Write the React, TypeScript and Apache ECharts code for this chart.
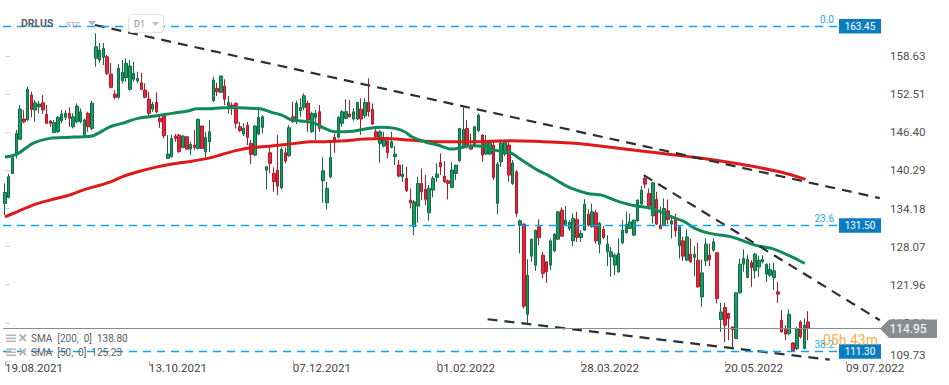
import React, { useEffect, useRef } from "react";
import * as echarts from "echarts";

// ---------- data ----------
const symbolName = "DRLUS";
const symbolSource = "STC";
const timeframe = "D1";
const startDate = "2021-08-19";
const marketHolidays = ["2021-09-06", "2021-11-25", "2021-12-24", "2022-01-17", "2022-02-21", "2022-04-15", "2022-05-30", "2022-06-20", "2022-07-04"];
const totalSlots = 232;
const xTickLabels = ["19.08.2021", "13.10.2021", "07.12.2021", "01.02.2022", "28.03.2022", "20.05.2022", "09.07.2022"];
const yTickValues = [109.73, 115.84, 121.96, 128.07, 134.18, 140.29, 146.4, 152.51, 158.63];
const yMin = 109.73;
const yMax = 167.62;

// [open, close, low, high]
const ohlc: number[][] = [
  [135.0, 136.76, 133.12, 138.21], [135.96, 139.27, 135.8, 139.7], [139.81, 142.32, 139.7, 142.59], [143.02, 146.23, 142.22, 146.76],
  [145.27, 150.13, 145.16, 150.77], [148.53, 148.09, 147.84, 149.97], [148.37, 153.29, 148.25, 153.71], [152.38, 150.08, 148.8, 152.91],
  [149.97, 151.14, 148.09, 151.58], [150.5, 150.93, 149.49, 151.42], [151.14, 149.97, 149.33, 152.38], [149.28, 147.84, 147.72, 150.77],
  [148.21, 147.84, 147.29, 148.37], [146.39, 148.0, 146.23, 148.37], [146.49, 148.8, 146.28, 149.01], [148.25, 149.33, 147.84, 149.97],
  [148.8, 149.44, 148.37, 149.97], [149.44, 148.64, 147.29, 150.4], [147.29, 148.9, 147.03, 149.44], [148.09, 150.61, 147.84, 151.05],
  [148.09, 149.7, 147.84, 150.24], [145.96, 148.37, 145.8, 148.64], [149.44, 147.29, 146.49, 149.7], [147.03, 151.05, 146.76, 151.46],
  [158.27, 160.13, 156.92, 162.28], [158.0, 159.6, 157.51, 160.72], [158.43, 159.87, 157.19, 160.72], [158.52, 155.86, 155.59, 158.8],
  [155.75, 153.61, 153.45, 157.51], [152.54, 152.01, 151.69, 153.18], [152.01, 156.66, 151.8, 157.35], [154.67, 156.02, 154.26, 157.99],
  [155.15, 157.47, 154.51, 158.27], [153.29, 157.03, 153.1, 157.99], [154.9, 155.86, 154.51, 157.72], [154.67, 155.06, 154.26, 156.12],
  [154.35, 153.29, 153.18, 155.96], [153.18, 152.01, 151.85, 154.26], [151.74, 149.44, 148.9, 152.91], [150.13, 150.89, 149.7, 151.3],
  [151.21, 149.7, 149.44, 152.81], [148.64, 148.09, 147.13, 148.9], [149.01, 145.85, 145.43, 149.1], [142.22, 142.91, 142.1, 145.96],
  [142.48, 145.43, 142.38, 145.96], [145.8, 145.43, 144.88, 146.12], [145.96, 143.28, 143.12, 146.12], [143.99, 145.8, 143.82, 145.96],
  [145.69, 143.71, 143.66, 145.8], [143.71, 144.47, 142.75, 144.88], [144.36, 143.99, 143.55, 146.76], [143.82, 148.48, 143.66, 148.64],
  [147.4, 143.82, 143.71, 147.5], [143.28, 145.59, 142.38, 146.49], [144.88, 146.49, 143.28, 148.37], [151.46, 154.79, 151.3, 155.31],
  [153.45, 152.91, 152.22, 154.35], [152.81, 155.42, 152.7, 155.5], [153.82, 151.69, 150.77, 154.9], [150.66, 151.21, 149.44, 152.22],
  [150.77, 150.5, 149.17, 151.21], [151.05, 147.84, 147.03, 151.21], [147.29, 146.65, 146.49, 148.09], [146.12, 147.03, 145.8, 147.84],
  [147.51, 145.59, 144.36, 148.09], [144.63, 142.86, 141.31, 145.16], [142.75, 147.4, 142.59, 147.56], [146.12, 148.8, 145.96, 150.5],
  [147.19, 148.9, 146.23, 149.17], [140.34, 140.87, 137.25, 141.0], [143.12, 141.42, 139.81, 143.99], [139.81, 138.46, 136.86, 140.78],
  [140.34, 137.77, 136.33, 145.96], [137.5, 143.66, 137.25, 143.99], [143.12, 141.79, 141.42, 143.99], [142.64, 147.13, 142.48, 147.56],
  [148.9, 148.09, 147.9, 151.3], [148.25, 151.05, 147.72, 151.46], [149.86, 150.4, 148.9, 151.85], [150.4, 152.27, 149.97, 152.65],
  [151.05, 148.37, 146.49, 151.46], [146.49, 149.44, 146.33, 149.7], [148.8, 149.44, 145.16, 149.97], [149.7, 147.03, 146.49, 150.77],
  [138.62, 140.23, 135.09, 142.38], [135.09, 137.41, 134.04, 138.46], [139.27, 142.38, 139.01, 144.72], [145.59, 144.88, 143.12, 146.23],
  [145.59, 148.8, 145.43, 149.01], [147.84, 149.7, 147.29, 149.97], [148.64, 149.7, 148.48, 151.69], [149.33, 148.9, 148.8, 151.58],
  [148.53, 149.7, 148.25, 150.24], [148.53, 151.21, 148.37, 151.3], [150.13, 148.53, 145.96, 151.85], [149.06, 151.21, 148.64, 151.85],
  [151.21, 149.7, 148.9, 155.06], [150.08, 147.72, 147.56, 151.05], [146.49, 145.69, 145.43, 147.03], [144.63, 146.49, 141.51, 146.76],
  [144.19, 145.43, 143.99, 146.49], [145.04, 143.12, 142.22, 145.69], [143.99, 144.88, 143.82, 146.49], [142.48, 142.91, 141.15, 144.19],
  [141.15, 139.38, 139.17, 141.95], [139.27, 139.7, 138.46, 141.26], [139.01, 137.02, 136.86, 140.87], [135.53, 135.09, 134.2, 137.41],
  [131.25, 135.26, 129.91, 135.53], [134.57, 138.21, 131.89, 139.27], [138.21, 136.86, 135.53, 140.61], [137.25, 135.64, 134.73, 139.54],
  [133.49, 137.41, 132.21, 137.94], [137.13, 139.01, 135.96, 139.38], [139.17, 139.7, 138.46, 141.42], [141.58, 140.87, 139.54, 143.02],
  [139.38, 138.46, 138.3, 141.79], [138.62, 138.21, 135.64, 138.85], [137.57, 140.34, 137.41, 141.67], [139.81, 141.15, 138.74, 141.2],
  [141.84, 147.03, 141.67, 147.1], [143.99, 146.87, 143.82, 150.4], [147.03, 144.08, 143.82, 148.37], [144.08, 143.71, 143.55, 146.23],
  [144.36, 147.29, 144.08, 147.4], [146.65, 149.17, 146.49, 149.44], [145.96, 142.75, 141.67, 146.07], [142.91, 144.63, 142.75, 145.96],
  [142.91, 144.79, 142.75, 145.16], [144.36, 139.17, 138.74, 145.16], [135.0, 141.31, 133.28, 141.67], [141.67, 144.63, 140.87, 144.88],
  [142.91, 144.88, 142.59, 144.95], [144.36, 139.54, 138.46, 144.88], [138.21, 141.47, 137.94, 141.95], [140.07, 133.39, 132.85, 140.34],
  [131.52, 132.21, 126.98, 132.43], [131.68, 118.52, 118.15, 131.79], [117.24, 123.49, 115.74, 126.02], [126.54, 129.27, 125.63, 129.38],
  [125.1, 130.71, 124.19, 130.8], [131.25, 129.48, 128.31, 132.43], [126.7, 123.77, 122.97, 127.24], [125.63, 124.03, 122.26, 125.7],
  [125.1, 129.0, 124.3, 129.27], [127.39, 130.07, 127.18, 130.23], [129.27, 133.65, 129.11, 133.81], [133.92, 129.75, 129.64, 134.36],
  [131.63, 132.32, 131.52, 134.57], [130.99, 131.95, 130.6, 132.32], [129.0, 132.59, 128.15, 133.39], [132.43, 129.55, 128.84, 133.65],
  [129.55, 130.19, 128.84, 130.71], [130.71, 134.89, 130.6, 135.69], [133.28, 131.52, 131.25, 134.04], [131.25, 133.65, 131.15, 134.98],
  [133.49, 129.0, 128.57, 133.92], [128.47, 131.79, 126.98, 132.05], [130.83, 129.55, 129.27, 131.36], [127.23, 128.47, 124.94, 129.91],
  [126.43, 127.23, 123.22, 128.03], [125.1, 126.7, 123.49, 126.98], [124.03, 126.98, 123.9, 129.38], [128.68, 130.71, 128.47, 132.32],
  [130.28, 131.68, 130.19, 133.65], [130.99, 132.05, 130.89, 133.39], [129.91, 132.32, 129.8, 132.43], [132.21, 135.53, 132.05, 135.64],
  [134.89, 137.13, 134.73, 137.78], [139.01, 138.09, 137.41, 139.54], [136.6, 134.57, 134.04, 137.41], [133.01, 138.3, 131.79, 138.46],
  [135.64, 131.68, 131.52, 136.86], [131.52, 130.99, 130.83, 134.46], [131.52, 134.2, 131.36, 135.8], [133.81, 132.43, 131.68, 135.64],
  [131.68, 132.21, 129.38, 132.85], [132.59, 130.6, 129.64, 133.39], [128.2, 131.25, 126.17, 131.52], [129.0, 126.54, 125.79, 129.64],
  [125.9, 129.64, 125.79, 130.83], [126.86, 125.63, 125.47, 129.38], [126.33, 126.86, 123.33, 128.15], [125.9, 121.61, 121.5, 128.68],
  [120.01, 123.86, 118.41, 126.02], [125.79, 128.47, 124.94, 129.38], [126.7, 126.01, 124.94, 128.58], [127.51, 128.84, 127.24, 129.38],
  [127.07, 119.76, 118.96, 127.24], [116.39, 117.6, 114.39, 119.05], [118.31, 115.47, 112.79, 119.05], [117.35, 116.55, 113.06, 117.45],
  [115.19, 114.78, 111.73, 115.31], [113.34, 120.66, 113.23, 120.77], [120.66, 125.26, 120.56, 126.17], [125.26, 126.17, 124.03, 127.62],
  [123.12, 126.06, 122.97, 126.7], [125.53, 124.73, 121.61, 125.9], [124.19, 126.86, 122.97, 127.07], [124.83, 125.9, 123.22, 126.54],
  [125.63, 126.01, 125.37, 126.7], [123.65, 125.26, 122.42, 125.37], [123.49, 124.41, 123.22, 125.37], [123.12, 124.19, 121.09, 125.47],
  [120.82, 120.45, 119.05, 122.42], [116.27, 114.39, 114.3, 117.88], [114.78, 114.03, 113.06, 115.47], [114.14, 117.24, 113.87, 117.99],
  [112.63, 111.35, 111.19, 112.79], [111.73, 114.94, 111.46, 115.2], [116.0, 113.6, 113.33, 116.27], [111.73, 115.47, 111.6, 116.55],
  [116.0, 114.95, 113.06, 117.72],
];

// [bar index, value]
const sma50: number[][] = [
  [0, 142.43], [3.2, 142.91], [7.4, 144.63], [11.9, 145.43], [16.4, 145.59], [20.6, 145.69], [23, 145.8], [27.7, 147.29],
  [30.9, 147.84], [35.1, 148.64], [39.6, 149.01], [44.1, 149.44], [48.3, 149.81], [50.7, 150.18], [54.1, 150.18], [57.3, 150.34],
  [61.5, 150.34], [66, 150.24], [67.8, 150.13], [70.4, 149.6], [73.1, 149.17], [75.7, 148.37], [78.4, 148.21], [81.8, 147.84],
  [84.4, 147.03], [87.1, 146.49], [89.7, 146.49], [92.3, 146.6], [95.8, 147.03], [99.5, 147.2], [102.9, 147.03], [105.5, 146.49],
  [107.4, 145.69], [110.8, 144.89], [114.2, 144.36], [117.9, 143.71], [119.5, 143.83], [123.2, 144.24], [126.6, 144.08], [129.3, 143.55],
  [133.2, 143.18], [136.4, 141.95], [140.6, 140.34], [143.3, 139.54], [147, 138.21], [149.6, 137.41], [153.8, 136.6], [157.5, 136.33],
  [160.9, 135.53], [165.4, 134.73], [170.7, 134.2], [176, 132.85], [179.4, 132.05], [182.1, 131.0], [186, 130.19], [191.8, 129.64],
  [197.9, 128.31], [202.4, 127.78], [207.7, 126.43], [211.1, 125.37],
];
const sma200: number[][] = [
  [0, 132.85], [3.2, 133.65], [7.4, 134.73], [11.9, 135.53], [16.4, 136.22], [20.6, 137.13], [27.7, 138.42], [30.9, 139.27],
  [35.1, 140.07], [39.6, 140.78], [44.1, 141.31], [48.3, 141.68], [54.1, 142.3], [57.3, 142.85], [61.5, 143.55], [66, 143.99],
  [70.4, 144.2], [74.7, 144.47], [80.5, 144.88], [84.4, 144.9], [89.7, 145.05], [95, 145.32], [100.3, 145.43], [106.9, 145.16],
  [114.2, 144.88], [123.2, 144.88], [133.2, 145.05], [149.1, 144.68], [157, 144.2], [170.2, 143.23], [183.4, 142.27], [193.9, 141.31],
  [204.5, 140.07], [211.3, 138.85],
];
const trendLines: number[][][] = [
  [[23.75, 163.61], [230.9, 135.85]],
  [[168.6, 139.54], [230.9, 116.27]],
  [[127.4, 116.43], [217.7, 109.94]],
];
const fibLevels = [
  { ratio: "0.0", price: 163.45 },
  { ratio: "23.6", price: 131.5 },
  { ratio: "38.2", price: 111.3 },
];
const lastPrice = 114.95;
const countdown = "05h 43m";
const smaLegend = [
  { label: "SMA  [200,  0]", value: 138.8 },
  { label: "SMA  [50,  0]", value: 125.23 },
];

// ---------- layout ----------
const W = 949;
const H = 385;
const GRID_LEFT = 3;
const GRID_RIGHT = 67;
const GRID_TOP = 0;
const GRID_BOTTOM = 24;
const FONT = "Roboto";

function buildDates(): string[] {
  const out: string[] = [];
  const d = new Date(startDate + "T00:00:00Z");
  while (out.length < totalSlots) {
    const day = d.getUTCDay();
    const iso = d.toISOString().slice(0, 10);
    if (day !== 0 && day !== 6 && !marketHolidays.includes(iso)) out.push(iso);
    d.setUTCDate(d.getUTCDate() + 1);
  }
  return out;
}

function labelIso(lbl: string) {
  const [dd, mm, yy] = lbl.split(".");
  return `${yy}-${mm}-${dd}`;
}

function buildOption() {
  const dates = buildDates();
  const labelAt = new Map<number, string>();
  xTickLabels.forEach((lbl) => {
    const iso = labelIso(lbl);
    let idx = 0;
    dates.forEach((d, i) => {
      if (d <= iso) idx = i;
    });
    labelAt.set(idx, lbl);
  });
  const showTick = (i: number) => labelAt.has(i);

  return {
    animation: false,
    backgroundColor: "#ffffff",
    grid: { left: GRID_LEFT, right: GRID_RIGHT, top: GRID_TOP, bottom: GRID_BOTTOM, containLabel: false },
    xAxis: [
      {
        type: "category",
        data: dates,
        boundaryGap: true,
        axisLine: { show: false },
        axisTick: { show: true, alignWithLabel: true, interval: showTick, length: 4, lineStyle: { color: "#a8a8a8" } },
        axisLabel: {
          interval: showTick,
          formatter: (_v: string, i: number) => labelAt.get(i) ?? "",
          align: "left",
          margin: 1,
          color: "#454545",
          fontSize: 11.6,
          fontFamily: FONT,
        },
        splitLine: { show: false },
      },
      { type: "value", min: -0.5, max: totalSlots - 0.5, show: false },
    ],
    yAxis: {
      type: "value",
      position: "right",
      min: yMin,
      max: yMax,
      splitLine: { show: false },
      axisLine: { show: false },
      axisTick: { show: true, length: 5, lineStyle: { color: "#d2d2d2" }, customValues: yTickValues },
      axisLabel: {
        customValues: yTickValues,
        formatter: (v: number) => v.toFixed(2),
        color: "#505050",
        fontSize: 11.6,
        fontFamily: FONT,
        margin: 8,
        verticalAlignMinLabel: "bottom",
      },
    },
    series: [
      {
        type: "line",
        data: [],
        z: 1,
        silent: true,
        markLine: {
          silent: true,
          symbol: ["none", "none"],
          label: { show: false },
          data: [
            ...fibLevels.map((f) => ({ yAxis: f.price, lineStyle: { color: "#0ea3ef", type: [8, 6], width: 1.3, opacity: 1 } })),
            { yAxis: lastPrice, lineStyle: { color: "#858d93", type: "solid", width: 1 } },
          ],
        },
      },
      {
        type: "candlestick",
        data: ohlc,
        barWidth: 3,
        z: 2,
        itemStyle: {
          color: "#1c9a64",
          color0: "#e2293d",
          borderColor: "#0e6c43",
          borderColor0: "#b3182a",
          borderWidth: 1,
        },
      },
      {
        type: "line",
        xAxisIndex: 1,
        data: sma200,
        smooth: 0.3,
        showSymbol: false,
        z: 3,
        lineStyle: { color: "#dc1a1a", width: 3 },
      },
      {
        type: "line",
        xAxisIndex: 1,
        data: sma50,
        smooth: 0.3,
        showSymbol: false,
        z: 3,
        lineStyle: { color: "#108a5a", width: 3 },
      },
      ...trendLines.map((tl) => ({
        type: "line",
        xAxisIndex: 1,
        data: tl,
        showSymbol: false,
        z: 4,
        lineStyle: { color: "#2a3036", width: 2.2, type: [10, 7] },
      })),
    ],
  };
}

function buildGraphics(yPx: (v: number) => number) {
  const gridRight = W - GRID_RIGHT;
  const els: any[] = [];

  // Fibonacci level tags
  fibLevels.forEach((f) => {
    const py = yPx(f.price);
    els.push({
      type: "text",
      x: gridRight - 48,
      y: py - 2,
      style: { text: f.ratio, fill: "#2aa8e8", font: `10px ${FONT}`, align: "right", verticalAlign: "bottom" },
      z: 10,
    });
    els.push({
      type: "rect",
      shape: { x: gridRight - 43, y: py - 7, width: 42, height: 14.5 },
      style: { fill: "#0a7dc2" },
      z: 11,
    });
    els.push({
      type: "text",
      x: gridRight - 22,
      y: py + 0.5,
      style: { text: f.price.toFixed(2), fill: "#ffffff", font: `10px ${FONT}`, align: "center", verticalAlign: "middle" },
      z: 12,
    });
  });
  // hide the top part of the "0.0" tag like the header strip does
  els.push({ type: "rect", shape: { x: gridRight - 70, y: 0, width: 30, height: 15 }, style: { fill: "#ffffff" }, z: 13 });

  // countdown
  const lp = yPx(lastPrice);
  els.push({
    type: "text",
    x: gridRight - 59,
    y: lp + 12,
    style: { text: countdown, fill: "rgba(245,160,35,0.85)", font: `14px ${FONT}`, align: "left", verticalAlign: "middle" },
    z: 14,
  });

  // last price tag
  els.push({
    type: "polygon",
    shape: {
      points: [
        [gridRight - 2, lp],
        [gridRight + 7, lp - 9],
        [gridRight + 55, lp - 9],
        [gridRight + 55, lp + 9.5],
        [gridRight + 7, lp + 9.5],
      ],
    },
    style: { fill: "#868e93" },
    z: 15,
  });
  els.push({
    type: "text",
    x: gridRight + 26,
    y: lp + 0.5,
    style: { text: lastPrice.toFixed(2), fill: "#ffffff", font: `12px ${FONT}`, align: "center", verticalAlign: "middle" },
    z: 16,
  });

  // header
  els.push({ type: "text", x: 21, y: 23, style: { text: symbolName, fill: "#56616b", font: `bold 10.5px ${FONT}`, verticalAlign: "middle" }, z: 20 });
  els.push({ type: "text", x: 66, y: 24, style: { text: symbolSource, fill: "#9aa0a6", font: `8px ${FONT}`, verticalAlign: "middle" }, z: 20 });
  els.push({ type: "polygon", shape: { points: [[88, 21], [96, 21], [92, 25.5]] }, style: { fill: "#b4b4b4" }, z: 20 });
  els.push({ type: "rect", shape: { x: 128.5, y: 14.5, width: 35, height: 18, r: 3 }, style: { fill: "#ffffff", stroke: "#e2e2e2", lineWidth: 1 }, z: 20 });
  els.push({ type: "text", x: 134, y: 24, style: { text: timeframe, fill: "#8a8f94", font: `9px ${FONT}`, verticalAlign: "middle" }, z: 21 });
  els.push({ type: "polygon", shape: { points: [[152, 22], [159, 22], [155.5, 26]] }, style: { fill: "#c2c2c2" }, z: 21 });

  // SMA legend
  smaLegend.forEach((s, k) => {
    const cy = 338 + k * 14;
    [-3.5, -0.5, 2.5].forEach((dy) =>
      els.push({ type: "rect", shape: { x: 6, y: cy + dy, width: 10, height: 1.6 }, style: { fill: "#b6b6b6" }, z: 20 })
    );
    els.push({ type: "line", shape: { x1: 19.5, y1: cy - 3.5, x2: 26, y2: cy + 3 }, style: { stroke: "#b6b6b6", lineWidth: 2 }, z: 20 });
    els.push({ type: "line", shape: { x1: 26, y1: cy - 3.5, x2: 19.5, y2: cy + 3 }, style: { stroke: "#b6b6b6", lineWidth: 2 }, z: 20 });
    els.push({
      type: "text",
      x: 31,
      y: cy,
      style: { text: `${s.label}  ${s.value.toFixed(2)}`, fill: "#5e5e5e", font: `10px ${FONT}`, verticalAlign: "middle" },
      z: 20,
    });
  });

  return els;
}

export default function App() {
  const ref = useRef<HTMLDivElement>(null);
  useEffect(() => {
    if (!ref.current) return;
    const chart = echarts.init(ref.current, undefined, { renderer: "svg" });
    chart.setOption(buildOption() as any);
    const yPx = (v: number) => chart.convertToPixel({ yAxisIndex: 0 } as any, v) as unknown as number;
    chart.setOption({ graphic: buildGraphics(yPx) } as any);
    return () => chart.dispose();
  }, []);
  return <div ref={ref} style={{ position: "absolute", left: 0, top: 0, width: W, height: H, background: "#fff" }} />;
}
